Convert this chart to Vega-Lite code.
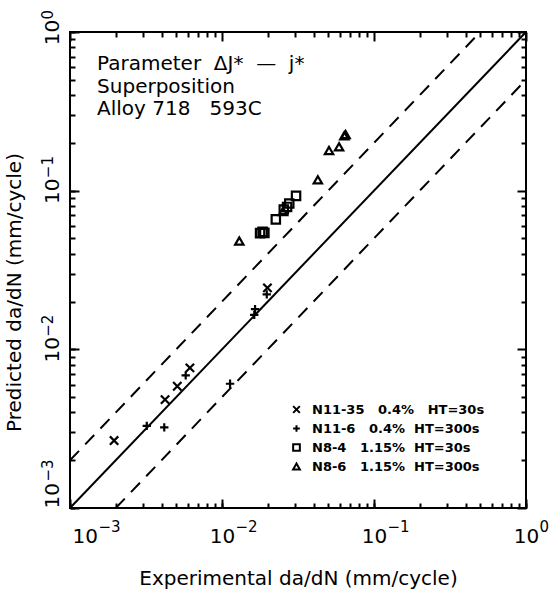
{
  "$schema": "https://vega.github.io/schema/vega-lite/v6.json",
  "width": 456,
  "height": 476,
  "autosize": "none",
  "padding": {"left": 70, "top": 32, "right": 30, "bottom": 92},
  "background": "white",
  "config": {
    "view": {"stroke": "black", "strokeWidth": 2},
    "font": "DejaVu Sans",
    "axis": {"grid": false, "domain": false, "ticks": true, "tickColor": "black", "tickWidth": 2, "tickOpacity": 1, "labelColor": "black", "titleColor": "black", "labelFlush": false, "labelOverlap": false}
  },
  "resolve": {"axis": {"x": "independent", "y": "independent"}},
  "datasets": {
    "lines": [
      {"line": "equal", "style": "solid", "exp": 0.001, "pred": 0.001},
      {"line": "equal", "style": "solid", "exp": 1, "pred": 1},
      {"line": "upper", "style": "dashed", "exp": 0.001, "pred": 0.002},
      {"line": "upper", "style": "dashed", "exp": 0.5, "pred": 1},
      {"line": "lower", "style": "dashed", "exp": 0.002, "pred": 0.001},
      {"line": "lower", "style": "dashed", "exp": 1, "pred": 0.5}
    ],
    "points": [
      {"series": "N11-35\u00a0\u00a0\u00a00.4%\u00a0\u00a0\u00a0HT=30s", "exp": 0.00195, "pred": 0.00266},
      {"series": "N11-35\u00a0\u00a0\u00a00.4%\u00a0\u00a0\u00a0HT=30s", "exp": 0.00422, "pred": 0.00482},
      {"series": "N11-35\u00a0\u00a0\u00a00.4%\u00a0\u00a0\u00a0HT=30s", "exp": 0.00508, "pred": 0.00585},
      {"series": "N11-35\u00a0\u00a0\u00a00.4%\u00a0\u00a0\u00a0HT=30s", "exp": 0.00615, "pred": 0.00764},
      {"series": "N11-35\u00a0\u00a0\u00a00.4%\u00a0\u00a0\u00a0HT=30s", "exp": 0.0199, "pred": 0.0244},
      {"series": "N11-6\u00a0\u00a0\u00a00.4%\u00a0\u00a0HT=300s", "exp": 0.0032, "pred": 0.00329},
      {"series": "N11-6\u00a0\u00a0\u00a00.4%\u00a0\u00a0HT=300s", "exp": 0.00417, "pred": 0.00322},
      {"series": "N11-6\u00a0\u00a0\u00a00.4%\u00a0\u00a0HT=300s", "exp": 0.00577, "pred": 0.00685},
      {"series": "N11-6\u00a0\u00a0\u00a00.4%\u00a0\u00a0HT=300s", "exp": 0.0113, "pred": 0.00607},
      {"series": "N11-6\u00a0\u00a0\u00a00.4%\u00a0\u00a0HT=300s", "exp": 0.0165, "pred": 0.0179},
      {"series": "N11-6\u00a0\u00a0\u00a00.4%\u00a0\u00a0HT=300s", "exp": 0.0163, "pred": 0.0165},
      {"series": "N11-6\u00a0\u00a0\u00a00.4%\u00a0\u00a0HT=300s", "exp": 0.0197, "pred": 0.0222},
      {"series": "N8-4\u00a0\u00a0\u00a01.15%\u00a0\u00a0HT=30s", "exp": 0.0178, "pred": 0.054},
      {"series": "N8-4\u00a0\u00a0\u00a01.15%\u00a0\u00a0HT=30s", "exp": 0.0185, "pred": 0.055},
      {"series": "N8-4\u00a0\u00a0\u00a01.15%\u00a0\u00a0HT=30s", "exp": 0.019, "pred": 0.0542},
      {"series": "N8-4\u00a0\u00a0\u00a01.15%\u00a0\u00a0HT=30s", "exp": 0.0226, "pred": 0.0659},
      {"series": "N8-4\u00a0\u00a0\u00a01.15%\u00a0\u00a0HT=30s", "exp": 0.0255, "pred": 0.076},
      {"series": "N8-4\u00a0\u00a0\u00a01.15%\u00a0\u00a0HT=30s", "exp": 0.0268, "pred": 0.079},
      {"series": "N8-4\u00a0\u00a0\u00a01.15%\u00a0\u00a0HT=30s", "exp": 0.0277, "pred": 0.083},
      {"series": "N8-4\u00a0\u00a0\u00a01.15%\u00a0\u00a0HT=30s", "exp": 0.0307, "pred": 0.0927},
      {"series": "N8-6\u00a0\u00a0\u00a01.15%\u00a0\u00a0HT=300s", "exp": 0.013, "pred": 0.0482},
      {"series": "N8-6\u00a0\u00a0\u00a01.15%\u00a0\u00a0HT=300s", "exp": 0.0252, "pred": 0.074},
      {"series": "N8-6\u00a0\u00a0\u00a01.15%\u00a0\u00a0HT=300s", "exp": 0.0427, "pred": 0.117},
      {"series": "N8-6\u00a0\u00a0\u00a01.15%\u00a0\u00a0HT=300s", "exp": 0.0506, "pred": 0.179},
      {"series": "N8-6\u00a0\u00a0\u00a01.15%\u00a0\u00a0HT=300s", "exp": 0.0589, "pred": 0.189},
      {"series": "N8-6\u00a0\u00a0\u00a01.15%\u00a0\u00a0HT=300s", "exp": 0.0638, "pred": 0.222},
      {"series": "N8-6\u00a0\u00a0\u00a01.15%\u00a0\u00a0HT=300s", "exp": 0.065, "pred": 0.226}
    ],
    "notes": [
      {"exp": 0.001507, "pred": 0.726, "text": ["Parameter\u00a0\u00a0ΔJ*\u00a0\u00a0—\u00a0\u00a0j*", "Superposition", "Alloy 718\u00a0\u00a0\u00a0593C"]}
    ]
  },
  "layer": [
    {
      "data": {"name": "lines"},
      "transform": [{"filter": "datum.style === 'solid'"}],
      "mark": {"type": "line", "color": "black", "strokeWidth": 2},
      "encoding": {
        "x": {"field": "exp", "type": "quantitative",
          "scale": {"type": "log", "domain": [0.001, 1], "nice": false},
          "axis": {"orient": "top", "labels": false, "title": null, "offset": -5, "tickSize": 5,
            "values": [0.002,0.003,0.004,0.005,0.006,0.007,0.008,0.009,0.02,0.03,0.04,0.05,0.06,0.07,0.08,0.09,0.2,0.3,0.4,0.5,0.6,0.7,0.8,0.9]}},
        "y": {"field": "pred", "type": "quantitative",
          "scale": {"type": "log", "domain": [0.001, 1], "nice": false},
          "axis": {"orient": "right", "labels": false, "title": null, "offset": -5, "tickSize": 5,
            "values": [0.002,0.003,0.004,0.005,0.006,0.007,0.008,0.009,0.02,0.03,0.04,0.05,0.06,0.07,0.08,0.09,0.2,0.3,0.4,0.5,0.6,0.7,0.8,0.9]}}
      }
    },
    {
      "data": {"name": "lines"},
      "transform": [{"filter": "datum.style === 'dashed'"}],
      "mark": {"type": "line", "color": "black", "strokeWidth": 2, "strokeDash": [13, 9]},
      "encoding": {
        "x": {"field": "exp", "type": "quantitative",
          "axis": {"orient": "top", "labels": false, "title": null, "offset": -9, "tickSize": 9,
            "values": [0.001, 0.01, 0.1, 1]}},
        "y": {"field": "pred", "type": "quantitative",
          "axis": {"orient": "right", "labels": false, "title": null, "offset": -9, "tickSize": 9,
            "values": [0.001, 0.01, 0.1, 1]}},
        "detail": {"field": "line"}
      }
    },
    {
      "data": {"name": "points"},
      "mark": {"type": "point", "filled": false, "strokeWidth": 2.2, "color": "black", "opacity": 1, "size": 70},
      "encoding": {
        "x": {"field": "exp", "type": "quantitative",
          "axis": {"orient": "bottom", "title": "Experimental da/dN (mm/cycle)", "offset": -5, "tickSize": 5,
            "values": [0.001,0.002,0.003,0.004,0.005,0.006,0.007,0.008,0.009,0.01,0.02,0.03,0.04,0.05,0.06,0.07,0.08,0.09,0.1,0.2,0.3,0.4,0.5,0.6,0.7,0.8,0.9,1],
            "labelExpr": "datum.value === 0.001 || datum.value === 0.01 || datum.value === 0.1 || datum.value === 1 ? '10' : ''",
            "labelFontSize": 20, "labelPadding": 18, "labelBaseline": "top",
            "labelAlign": {"condition": {"test": "datum.value === 0.001", "value": "left"}, "value": "center"},
            "labelOffset": {"condition": {"test": "datum.value === 0.001", "value": 2}, "value": 0},
            "titleFontSize": 20, "titleFontWeight": "normal", "titlePadding": 22}},
        "y": {"field": "pred", "type": "quantitative",
          "axis": {"orient": "left", "title": "Predicted da/dN (mm/cycle)", "offset": -5, "tickSize": 5,
            "values": [0.001,0.002,0.003,0.004,0.005,0.006,0.007,0.008,0.009,0.01,0.02,0.03,0.04,0.05,0.06,0.07,0.08,0.09,0.1,0.2,0.3,0.4,0.5,0.6,0.7,0.8,0.9,1],
            "labelExpr": "datum.value === 0.001 || datum.value === 0.01 || datum.value === 0.1 || datum.value === 1 ? '10' : ''",
            "labelFontSize": 20, "labelAngle": -90, "labelBaseline": "bottom", "labelPadding": 8,
            "labelAlign": {"condition": {"test": "datum.value === 0.001", "value": "left"}, "value": "center"},
            "labelOffset": 0,
            "titleFontSize": 20, "titleFontWeight": "normal", "titlePadding": 18, "titleY": 260}},
        "shape": {"field": "series", "type": "nominal",
          "scale": {"domain": ["N11-35\u00a0\u00a0\u00a00.4%\u00a0\u00a0\u00a0HT=30s", "N11-6\u00a0\u00a0\u00a00.4%\u00a0\u00a0HT=300s", "N8-4\u00a0\u00a0\u00a01.15%\u00a0\u00a0HT=30s", "N8-6\u00a0\u00a0\u00a01.15%\u00a0\u00a0HT=300s"],
            "range": ["M-1,-1L1,1M-1,1L1,-1", "M-1,0L1,0M0,-1L0,1", "square", "triangle-up"]},
          "legend": {"title": null, "orient": "none", "legendX": 220, "legendY": 371, "labelFont": "DejaVu Sans", "labelFontSize": 13, "labelFontWeight": "bold", "labelColor": "black", "labelLimit": 400, "symbolSize": 45, "symbolStrokeWidth": 2, "symbolStrokeColor": "black", "symbolOpacity": 1, "rowPadding": 4, "labelOffset": 9}}
      }
    },
    {
      "data": {"name": "notes"},
      "mark": {"type": "text", "align": "left", "baseline": "top", "fontSize": 20, "lineHeight": 22.5, "color": "black"},
      "encoding": {
        "x": {"field": "exp", "type": "quantitative",
          "axis": {"orient": "bottom", "title": null, "offset": -9, "tickSize": 9,
            "values": [0.001, 0.01, 0.1, 1],
            "labelExpr": "datum.value === 0.001 ? '−3' : datum.value === 0.01 ? '−2' : datum.value === 0.1 ? '−1' : '0'",
            "labelFontSize": 15, "labelPadding": 11, "labelBaseline": "top", "labelAlign": "left",
            "labelOffset": {"condition": {"test": "datum.value === 0.001", "value": 28}, "value": 13}}},
        "y": {"field": "pred", "type": "quantitative",
          "axis": {"orient": "left", "title": null, "offset": -9, "tickSize": 9,
            "values": [0.001, 0.01, 0.1, 1],
            "labelExpr": "datum.value === 0.001 ? '−3' : datum.value === 0.01 ? '−2' : datum.value === 0.1 ? '−1' : '0'",
            "labelFontSize": 15, "labelAngle": -90, "labelBaseline": "bottom", "labelAlign": "left", "labelPadding": 15,
            "labelOffset": {"condition": {"test": "datum.value === 0.001", "value": -27}, "value": -13}}},
        "text": {"field": "text"}
      }
    }
  ]
}
